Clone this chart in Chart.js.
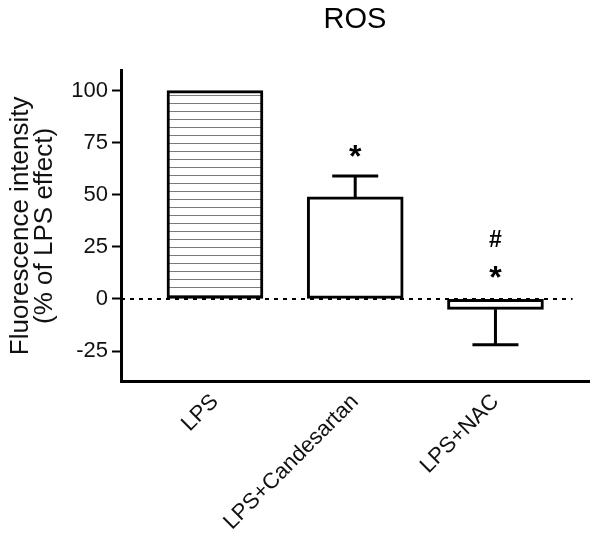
<!DOCTYPE html>
<html>
<head>
<meta charset="utf-8">
<script src="https://cdn.jsdelivr.net/npm/chart.js@4/dist/chart.umd.min.js"></script>
<style>
  html, body { margin: 0; padding: 0; background: #fff; }
  #wrap { width: 600px; height: 542px; }
</style>
</head>
<body>
<div id="wrap"><canvas id="c" width="600" height="542"></canvas></div>
<script>
// ---- data ----
const chartTitle = 'ROS';
const categories = ['LPS', 'LPS+Candesartan', 'LPS+NAC'];
const positions = [0, 1, 2];
const means = [100, 49, -5];
const errorEnds = [null, 59, -22];       // end value of each error bar
const starMarks = ['', '*', '*'];
const starValues = [null, 70, 12];
const hashMarks = ['', '', '#'];
const hashValues = [null, null, 28];
const yTickValues = [-25, 0, 25, 50, 75, 100];
const yTitle = ['Fluorescence intensity', '(% of LPS effect)'];
const xRange = [-0.67, 2.667];
const yRange = [-39.4, 109.6];
const zeroLineEnd = 2.55;

const FONT = '"Liberation Sans", Arial, Helvetica, sans-serif';

const canvas = document.getElementById('c');
const ctx = canvas.getContext('2d');

// hatch pattern for the LPS bar
const pc = document.createElement('canvas');
pc.width = 8; pc.height = 8;
const pg = pc.getContext('2d');
pg.fillStyle = '#fff'; pg.fillRect(0, 0, 8, 8);
pg.fillStyle = '#7a7a7a'; pg.fillRect(0, 7, 8, 1);
const hatch = ctx.createPattern(pc, 'repeat');

const barFills = [hatch, '#fff', '#fff'];

const errorBarPlugin = {
  id: 'errorBars',
  afterDatasetsDraw(chart) {
    const xs = chart.scales.x, ys = chart.scales.y;
    const c = chart.ctx;
    c.save();
    c.strokeStyle = '#000';
    c.lineWidth = 3;
    c.lineCap = 'butt';
    positions.forEach((p, i) => {
      if (errorEnds[i] === null) return;
      const x = xs.getPixelForValue(p);
      const y0 = ys.getPixelForValue(means[i]);
      const y1 = ys.getPixelForValue(errorEnds[i]);
      c.beginPath();
      c.moveTo(x, y0); c.lineTo(x, y1);
      c.moveTo(x - 23, y1); c.lineTo(x + 23, y1);
      c.stroke();
    });
    // significance marks
    c.fillStyle = '#000';
    c.textAlign = 'center';
    c.textBaseline = 'middle';
    positions.forEach((p, i) => {
      const x = xs.getPixelForValue(p);
      if (starMarks[i]) {
        c.font = 'bold 32px ' + FONT;
        c.fillText(starMarks[i], x, ys.getPixelForValue(starValues[i]) + 5);
      }
      if (hashMarks[i]) {
        c.font = 'bold 23px ' + FONT;
        c.fillText(hashMarks[i], x, ys.getPixelForValue(hashValues[i]));
      }
    });
    // title centred on plot area
    c.font = '29px ' + FONT;
    c.textBaseline = 'middle';
    c.fillText(chartTitle, (chart.chartArea.left + chart.chartArea.right) / 2, 20);
    c.restore();
  }
};

new Chart(ctx, {
  type: 'bar',
  data: {
    datasets: [
      {
        type: 'bar',
        data: positions.map((p, i) => ({ x: p, y: means[i] })),
        backgroundColor: barFills,
        borderColor: '#000',
        borderWidth: 3,
        borderSkipped: false,
        barThickness: 96,
        order: 0
      },
      {
        type: 'line',
        data: [{ x: xRange[0], y: 0 }, { x: zeroLineEnd, y: 0 }],
        borderColor: '#000',
        borderWidth: 2,
        borderDash: [4, 5],
        pointRadius: 0,
        fill: false,
        order: 1
      }
    ]
  },
  options: {
    responsive: false,
    animation: false,
    layout: { padding: { top: 70.7, right: 11, left: 0, bottom: 0 } },
    plugins: { legend: { display: false }, tooltip: { enabled: false }, title: { display: false } },
    scales: {
      x: {
        type: 'linear',
        offset: false,
        min: xRange[0],
        max: xRange[1],
        afterFit(s) { s.height = 161; },
        afterBuildTicks(s) { s.ticks = positions.map(v => ({ value: v })); },
        grid: { display: true, drawOnChartArea: false, drawTicks: false, offset: false },
        border: { display: true, width: 3, color: '#000' },
        ticks: {
          autoSkip: false,
          maxRotation: 45,
          minRotation: 45,
          padding: 8,
          color: '#111',
          font: { family: FONT, size: 22 },
          callback: v => categories[Math.round(v)]
        }
      },
      y: {
        type: 'linear',
        min: yRange[0],
        max: yRange[1],
        afterFit(s) { s.width = 121; },
        afterBuildTicks(s) { s.ticks = yTickValues.map(v => ({ value: v })); },
        grid: { display: true, drawOnChartArea: false, drawTicks: true, tickLength: 9, tickWidth: 2, tickColor: '#000' },
        border: { display: true, width: 3, color: '#000' },
        ticks: {
          padding: 4,
          color: '#111',
          font: { family: FONT, size: 22 }
        },
        title: {
          display: true,
          text: yTitle,
          color: '#111',
          font: { family: FONT, size: 26, lineHeight: 0.93 },
          padding: { top: 9, bottom: 0 }
        }
      }
    }
  },
  plugins: [errorBarPlugin]
});
</script>
</body>
</html>
